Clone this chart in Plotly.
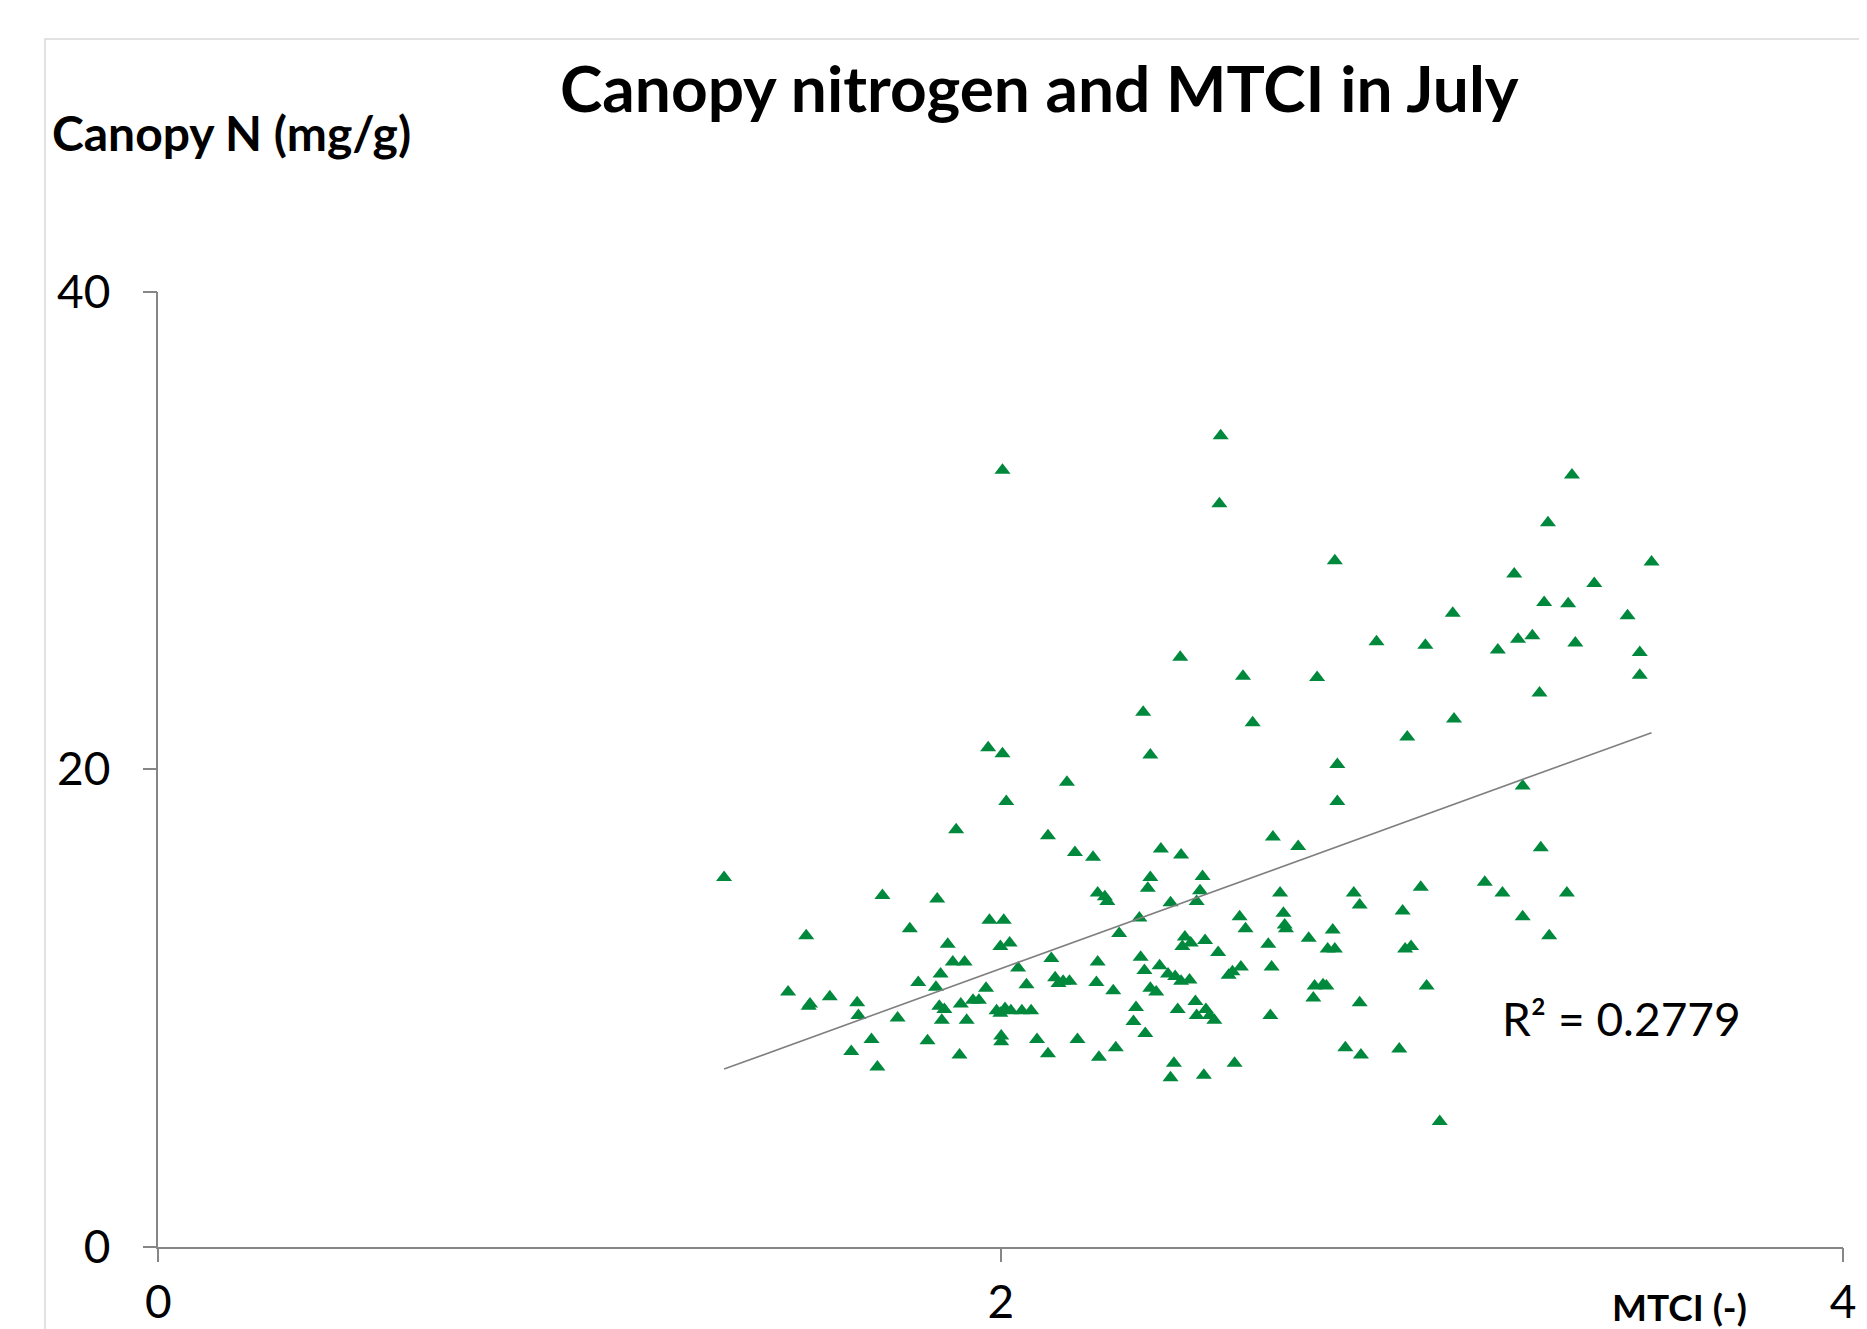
import numpy as np
import plotly.graph_objects as go

# MTCI (-) values
mtci = [1.343, 1.495, 1.538, 1.544, 1.547, 1.594, 1.645, 1.659, 1.662, 1.693,
        1.707, 1.719, 1.755, 1.784, 1.804, 1.826, 1.846, 1.849, 1.854, 1.857,
        1.860, 1.866, 1.874, 1.886, 1.894, 1.902, 1.905, 1.914, 1.919, 1.934,
        1.948, 1.965, 1.970, 1.973, 1.990, 1.999, 1.999, 2.001, 2.001, 2.004,
        2.004, 2.007, 2.010, 2.013, 2.021, 2.024, 2.041, 2.050, 2.061, 2.072,
        2.086, 2.112, 2.112, 2.120, 2.129, 2.137, 2.148, 2.157, 2.163, 2.176,
        2.182, 2.219, 2.227, 2.230, 2.230, 2.233, 2.247, 2.253, 2.267, 2.273,
        2.281, 2.315, 2.321, 2.329, 2.332, 2.338, 2.341, 2.343, 2.349, 2.355,
        2.355, 2.355, 2.369, 2.377, 2.380, 2.397, 2.403, 2.403, 2.411, 2.414,
        2.420, 2.426, 2.428, 2.428, 2.431, 2.437, 2.448, 2.451, 2.462, 2.465,
        2.465, 2.473, 2.479, 2.482, 2.485, 2.487, 2.496, 2.507, 2.516, 2.519,
        2.522, 2.541, 2.550, 2.555, 2.567, 2.570, 2.575, 2.581, 2.598, 2.635,
        2.640, 2.643, 2.646, 2.663, 2.671, 2.674, 2.677, 2.706, 2.731, 2.742,
        2.745, 2.751, 2.765, 2.773, 2.776, 2.793, 2.793, 2.788, 2.799, 2.799,
        2.818, 2.838, 2.852, 2.852, 2.855, 2.892, 2.946, 2.954, 2.960, 2.965,
        2.974, 2.997, 3.008, 3.011, 3.042, 3.073, 3.076, 3.149, 3.180, 3.191,
        3.219, 3.228, 3.239, 3.239, 3.262, 3.279, 3.282, 3.290, 3.299, 3.302,
        3.344, 3.347, 3.356, 3.364, 3.409, 3.488, 3.517, 3.517, 3.545]

# Canopy N (mg/g) values
canopy_n = [15.46, 10.67, 13.02, 10.07, 10.17, 10.47, 8.18, 10.22, 9.68, 8.68,
            7.53, 14.71, 9.58, 13.32, 11.07, 8.63, 10.87, 14.56, 10.07, 11.42,
            9.48, 9.93, 12.67, 11.92, 17.46, 8.03, 10.17, 11.92, 9.48, 10.32,
            10.32, 10.82, 20.90, 13.67, 9.88, 9.78, 12.57, 8.83, 8.58, 20.65,
            32.52, 13.67, 9.98, 18.65, 12.72, 9.88, 11.67, 9.88, 10.97, 9.88,
            8.68, 17.21, 8.08, 12.07, 11.27, 11.02, 11.12, 19.45, 11.12, 16.51,
            8.68, 16.31, 11.07, 11.92, 14.81, 7.93, 14.66, 14.46, 10.72, 8.33,
            13.12, 9.43, 10.02, 13.77, 12.12, 22.39, 11.57, 8.93, 15.01, 20.60,
            15.46, 10.82, 10.67, 11.77, 16.66, 11.42, 14.41, 7.08, 7.68, 11.32,
            9.93, 24.69, 16.41, 11.12, 12.57, 12.97, 11.17, 12.72, 10.27, 14.46,
            9.68, 14.91, 15.51, 7.18, 12.82, 9.93, 9.68, 9.48, 12.32, 31.12,
            33.97, 11.37, 11.52, 7.68, 13.82, 11.72, 23.89, 13.32, 21.95, 12.67,
            9.68, 11.72, 17.16, 14.81, 13.97, 13.47, 13.32, 16.76, 12.92, 10.42,
            10.92, 23.84, 10.97, 10.92, 12.47, 12.47, 28.73, 13.27, 20.20, 18.65,
            8.33, 14.81, 14.31, 10.22, 8.03, 25.34, 8.28, 14.06, 12.47, 21.35,
            12.57, 15.06, 25.19, 10.92, 5.24, 26.53, 22.10, 15.26, 24.99, 14.81,
            28.18, 25.44, 13.82, 19.30, 25.59, 23.19, 16.71, 26.98, 30.32, 13.02,
            14.81, 26.93, 32.32, 25.29, 27.78, 26.43, 24.89, 23.94, 28.68]

x_ticks = [0, 2, 4]
y_ticks = [0, 20, 40]
title_text = "Canopy nitrogen and MTCI in July"
y_title = "Canopy N (mg/g)"
x_title = "MTCI (-)"
r2_text = "R\u00b2 = 0.2779"

W, H = 1867, 1329
OFF = 8  # page body margin offset
FONT = "Lato"

# linear trend fitted from the data
xa = np.array(mtci)
ya = np.array(canopy_n)
slope, intercept = np.polyfit(xa, ya, 1)
tx = np.array([xa.min(), xa.max()])
ty = slope * tx + intercept

fig = go.Figure()
fig.add_trace(go.Scatter(
    x=mtci, y=canopy_n, mode="markers",
    marker=dict(symbol="triangle-up", size=14, color="#00893C"),
    showlegend=False, hoverinfo="x+y"))
fig.add_trace(go.Scatter(
    x=tx, y=ty, mode="lines",
    line=dict(color="#7F7F7F", width=1.6),
    showlegend=False, hoverinfo="skip"))


def px_x(v):
    return (v - OFF) / W


def px_y(v):
    return (H - (v - OFF)) / H


fig.update_layout(
    width=W, height=H,
    margin=dict(l=0, r=0, t=0, b=0, autoexpand=False),
    paper_bgcolor="white", plot_bgcolor="white",
    font=dict(family=FONT, color="#000000"),
    xaxis=dict(
        domain=[px_x(158.4), px_x(1843.2)], range=[0, 4], automargin=False,
        tickvals=x_ticks, ticktext=[str(v) for v in x_ticks],
        showgrid=False, zeroline=False,
        showline=True, linecolor="#868686", linewidth=1.5,
        ticks="outside", ticklen=14, tickcolor="#868686", tickwidth=1.5,
        tickfont=dict(family=FONT, size=46, color="#000000"),
        ticklabelstandoff=0,
    ),
    yaxis=dict(
        domain=[px_y(1246.7), px_y(291.7)], range=[0, 40], automargin=False,
        tickvals=y_ticks, ticktext=[str(v) for v in y_ticks],
        showgrid=False, zeroline=False,
        showline=True, linecolor="#868686", linewidth=1.5,
        ticks="outside", ticklen=14, tickcolor="#868686", tickwidth=1.5,
        tickfont=dict(family=FONT, size=46, color="#000000"),
        ticklabelstandoff=23,
    ),
    shapes=[dict(type="rect", xref="paper", yref="paper",
                 x0=px_x(45), x1=px_x(1874), y0=-0.05, y1=px_y(39),
                 line=dict(color="#D9D9D9", width=1.5), layer="below")],
    annotations=[
        dict(text="<b>" + title_text + "</b>", xref="paper", yref="paper",
             x=px_x(1039.5), y=px_y(87), xanchor="center", yanchor="middle",
             showarrow=False, font=dict(family=FONT, size=64, color="#000000")),
        dict(text="<b>" + y_title + "</b>", xref="paper", yref="paper",
             x=px_x(50), y=px_y(132), xanchor="left", yanchor="middle",
             showarrow=False, font=dict(family=FONT, size=48, color="#000000")),
        dict(text="<b>" + x_title + "</b>", xref="paper", yref="paper",
             x=px_x(1679), y=px_y(1306), xanchor="center", yanchor="middle",
             showarrow=False, font=dict(family=FONT, size=37, color="#000000")),
        dict(text=r2_text, xref="paper", yref="paper",
             x=px_x(1500), y=px_y(1018), xanchor="left", yanchor="middle",
             showarrow=False, font=dict(family=FONT, size=46, color="#000000")),
    ],
)

fig.write_html("out.html")
